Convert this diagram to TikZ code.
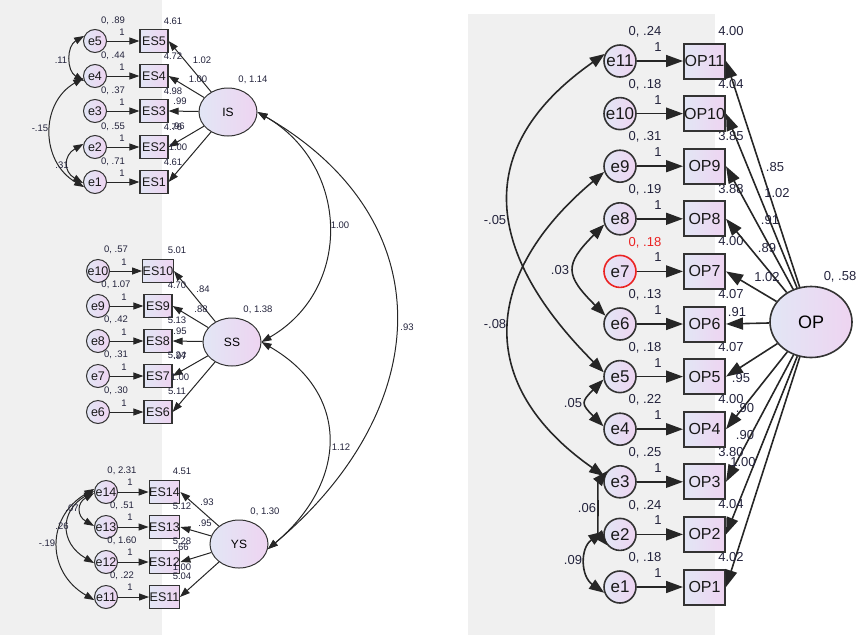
\documentclass[tikz,border=0pt]{standalone}
\usepackage{fontspec}
\setmainfont{Liberation Sans}
\usetikzlibrary{arrows.meta,shapes.geometric}

\definecolor{panelgray}{RGB}{240,240,240}
\definecolor{fillA}{RGB}{226,230,245}
\definecolor{fillB}{RGB}{238,212,241}
\definecolor{numtxt}{RGB}{35,35,60}
\definecolor{flagred}{RGB}{235,35,35}

\tikzset{
  lav/.style={left color=fillA, right color=fillB},
  errL/.style={circle, draw=black!80, line width=1pt, lav, minimum size=23pt, inner sep=0pt, text=black!90, font=\fontsize{12.5}{13}\selectfont},
  boxL/.style={rectangle, draw=black!80, line width=1.2pt, lav, minimum width=28pt, minimum height=23pt, inner sep=0pt, text=black!90, font=\fontsize{12.5}{13}\selectfont},
  latL/.style={ellipse, draw=black!80, line width=1pt, lav, minimum width=58pt, minimum height=48pt, inner sep=0pt, font=\fontsize{12}{13}\selectfont},
  numL/.style={text=numtxt, inner sep=0pt, font=\fontsize{9.5}{10}\selectfont},
  pathL/.style={draw=black!85, line width=1pt, -{Triangle[length=10pt,width=7pt]}},
  covL/.style={draw=black!85, line width=1pt, {Triangle[length=10pt,width=7pt]}-{Triangle[length=10pt,width=7pt]}},
  errR/.style={circle, draw=black!80, line width=1.6pt, lav, minimum size=32pt, inner sep=0pt, text=black!90, font=\fontsize{17}{18}\selectfont},
  boxR/.style={rectangle, draw=black!80, line width=2pt, lav, minimum width=41pt, minimum height=35pt, inner sep=0pt, text=black!90, font=\fontsize{16}{17}\selectfont},
  latR/.style={ellipse, draw=black!80, line width=1.6pt, lav, minimum width=82pt, minimum height=71pt, inner sep=0pt, font=\fontsize{18}{19}\selectfont},
  numR/.style={text=numtxt, inner sep=0pt, font=\fontsize{13}{14}\selectfont},
  pathR/.style={draw=black!85, line width=1.6pt, -{Triangle[length=17pt,width=12pt]}},
  covR/.style={draw=black!85, line width=1.6pt, {Triangle[length=15pt,width=11pt]}-{Triangle[length=15pt,width=11pt]}}
}

\begin{document}
\begin{tikzpicture}[x=1pt,y=-1pt]
\useasboundingbox (0,0) rectangle (861,635);
\fill[panelgray] (0,0) rectangle (162,635);
\fill[panelgray] (468,14) rectangle (715,635);

% first factor, items ES1-ES5
\node[latL] (IS) at (228,112) {IS};
\node[numL] at (253,80) {0, 1.14};
\foreach \i/\y/\vr/\mn/\lx/\ly/\lb in {5/41/.89/4.61/202/60/1.02, 4/76/.44/4.72/198/79/1.00,
    3/111/.37/4.98/180/101/.99, 2/147/.55/4.76/178/126/.96, 1/182/.71/4.61/178/147/1.00}{
  \node[errL] (e\i) at (95,\y) {e\i};
  \node[boxL] (ES\i) at (154,\y) {ES\i};
  \draw[pathL] (e\i) -- (ES\i);
  \draw[pathL] (IS) -- (ES\i.east);
  \node[numL] at (113,\y-20) {0, \vr};
  \node[numL] at (122,\y-9) {1};
  \node[numL] at (173,\y-20) {\mn};
  \node[numL] at (\lx,\ly) {\lb};
}
\draw[covL] (e5.155) to[out=210,in=150,looseness=1.16] (e4.205);
\draw[covL] (e4.190) to[out=210,in=150,looseness=1.18] (e1.205);
\draw[covL] (e2.165) to[out=210,in=150,looseness=1.5] (e1.185);
\node[numL] at (61,60) {.11};
\node[numL] at (40,128) {-.15};
\node[numL] at (62,165) {.31};

% second factor, items ES6-ES10
\node[latL] (SS) at (232,342) {SS};
\node[numL] at (258,310) {0, 1.38};
\foreach \i/\y/\vr/\mn/\lx/\ly/\lb in {10/271/.57/5.01/203/289/.84, 9/306/1.07/4.70/201/309/.88,
    8/341/.42/5.13/180/331/.95, 7/376/.31/5.24/180/356/.97, 6/412/.30/5.11/180/377/1.00}{
  \node[errL] (e\i) at (98,\y) {e\i};
  \node[boxL] (ES\i) at (158,\y) {ES\i};
  \draw[pathL] (e\i) -- (ES\i);
  \draw[pathL] (SS) -- (ES\i.east);
  \node[numL] at (116,\y-21) {0, \vr};
  \node[numL] at (124,\y-9) {1};
  \node[numL] at (177,\y-21) {\mn};
  \node[numL] at (\lx,\ly) {\lb};
}

% third factor, items ES11-ES14
\node[latL] (YS) at (239,544) {YS};
\node[numL] at (265,512) {0, 1.30};
\foreach \i/\y/\vr/\mn/\lx/\ly/\lb in {14/492/2.31/4.51/207/502/.93, 13/527/.51/5.12/205/523/.95,
    12/562/1.60/5.28/182/547/.66, 11/597/.22/5.04/182/567/1.00}{
  \node[errL] (e\i) at (106,\y) {e\i};
  \node[boxL] (ES\i) at (164.5,\y) {ES\i};
  \draw[pathL] (e\i) -- (ES\i);
  \draw[pathL] (YS) -- (ES\i.east);
  \node[numL] at (122,\y-21) {0, \vr};
  \node[numL] at (130,\y-10) {1};
  \node[numL] at (182,\y-21) {\mn};
  \node[numL] at (\lx,\ly) {\lb};
}
\draw[covL] (e14.185) to[out=210,in=150,looseness=1.55] (e13.175);
\draw[covL] (e14.175) to[out=210,in=150,looseness=1.42] (e12.185);
\draw[covL] (e14.165) to[out=210,in=150,looseness=1.29] (e11.195);
\node[numL] at (72,508) {.07};
\node[numL] at (62,526) {.26};
\node[numL] at (47,543) {-.19};

% factor covariances
\draw[covL] (IS.east) to[out=-30,in=30,looseness=1.18] (SS.east);
\draw[covL] (SS.east) to[out=-30,in=40,looseness=1.28] (YS.-10);
\draw[covL] (IS.east) to[out=-30,in=40,looseness=1.27] (YS.-10);
\node[numL] at (340,225) {1.00};
\node[numL] at (341,447) {1.12};
\node[numL] at (407,327) {.93};

% one factor, items OP1-OP11
\node[latR] (OP) at (811,322) {OP};
\node[numR] at (840,277) {0, .58};
\foreach \i/\vr/\mn/\oc/\tc in {1/.18/4.02/black!80/numtxt, 2/.24/4.04/black!80/numtxt,
    3/.25/3.80/black!80/numtxt, 4/.22/4.00/black!80/numtxt, 5/.18/4.07/black!80/numtxt,
    6/.13/4.07/black!80/numtxt, 7/.18/4.00/flagred/flagred, 8/.19/3.88/black!80/numtxt,
    9/.31/3.85/black!80/numtxt, 10/.18/4.04/black!80/numtxt, 11/.24/4.00/black!80/numtxt}{
  \pgfmathsetmacro\yy{587-(\i-1)*52.6}
  \node[errR, draw=\oc] (pe\i) at (620,\yy) {e\i};
  \node[boxR] (OP\i) at (704.5,\yy) {OP\i};
  \draw[pathR] (pe\i) -- (OP\i);
  \draw[pathR] (OP) -- (OP\i.east);
  \node[numR, text=\tc] at (645,\yy-29) {0, \vr};
  \node[numR] at (658,\yy-14) {1};
  \node[numR] at (731,\yy-30) {\mn};
}
\node[numR] at (775,167) {.85};
\node[numR] at (777,193) {1.02};
\node[numR] at (770,220) {.91};
\node[numR] at (767,248) {.89};
\node[numR] at (767,277) {1.02};
\node[numR] at (737,312) {.91};
\node[numR] at (741,378) {.95};
\node[numR] at (745,408) {.90};
\node[numR] at (745,435) {.90};
\node[numR] at (743,462) {1.00};

% error covariances
\draw[covR] (pe11.155) to[out=215,in=135,looseness=1.33] (pe5.165);
\draw[covR] (pe9.200) to[out=220,in=145,looseness=1.34] (pe3.160);
\draw[covR] (pe8.200) to[out=225,in=135,looseness=1.6] (pe6.150);
\draw[covR] (pe5.190) to[out=225,in=135,looseness=1.74] (pe4.170);
\draw[covR] (pe3.140) to[out=230,in=130,looseness=0.49] (pe2.220);
\draw[covR] (pe2.170) to[out=215,in=145,looseness=1.2] (pe1.200);
\node[numR] at (495,220) {-.05};
\node[numR] at (495,324) {-.08};
\node[numR] at (560,270) {.03};
\node[numR] at (573,403) {.05};
\node[numR] at (587,508) {.06};
\node[numR] at (573,560) {.09};
\end{tikzpicture}
\end{document}
